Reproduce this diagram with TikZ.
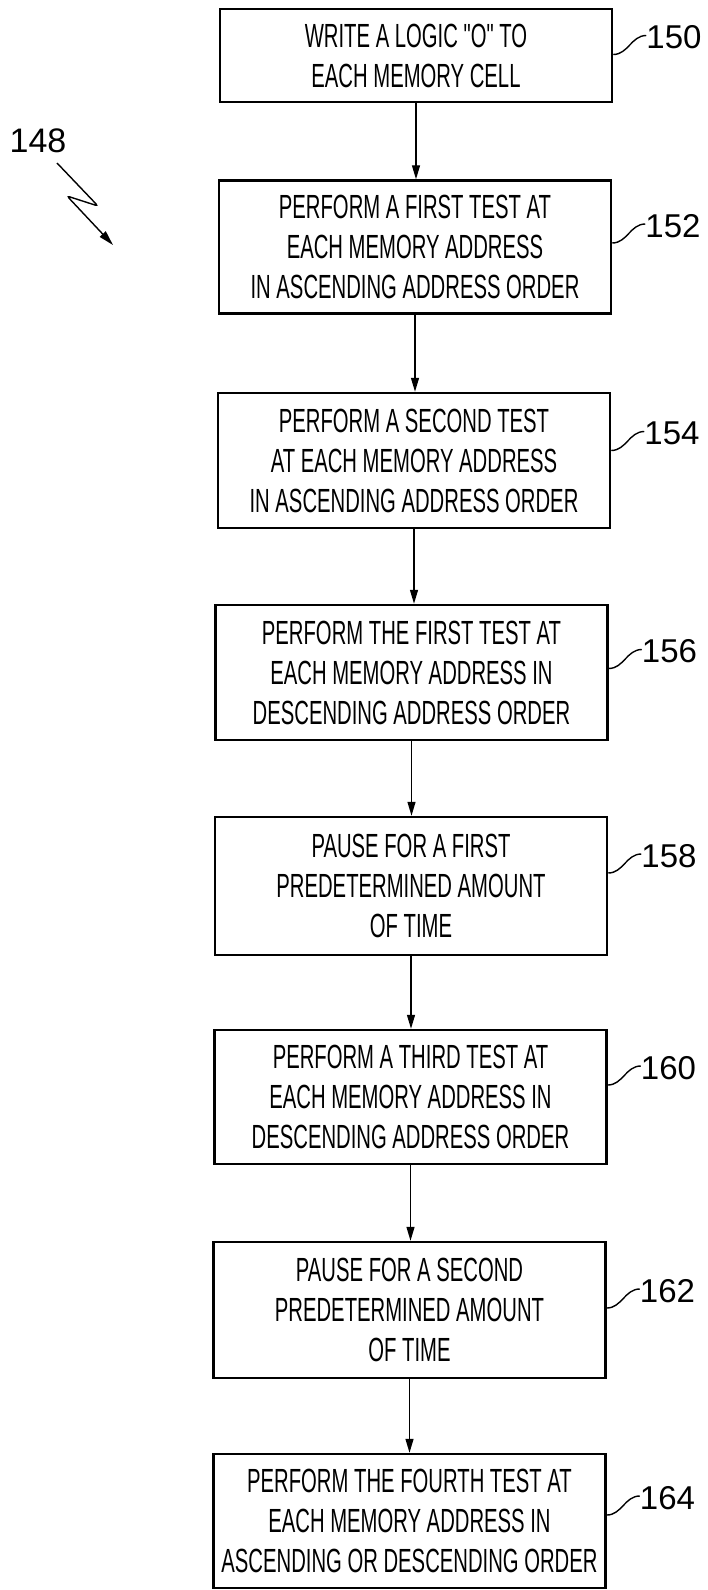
\documentclass[tikz,border=0pt]{standalone}
\usepackage{fontspec}
\setmainfont{Liberation Sans}
\newfontfamily\boxfont{Liberation Sans}[FakeStretch=0.605]
\usetikzlibrary{arrows.meta,calc}
\begin{document}
\begin{tikzpicture}[x=1pt,y=1pt,
  stepbox/.style={draw, line width=2.5pt, minimum width=392pt, minimum height=134pt,
    inner sep=0pt, align=center, font=\boxfont\fontsize{33.5}{40}\selectfont},
  flow/.style={line width=1.4pt, -{Triangle[length=14pt,width=8pt]}},
  refnum/.style={anchor=west, inner sep=0pt, font=\fontsize{33}{33}\selectfont},
  leader/.style={line width=1.4pt}]
\useasboundingbox (0,0) rectangle (708,-1590);

\node[stepbox, minimum height=93pt] (b150) at (416,-55.5) {WRITE A LOGIC "O" TO\\EACH MEMORY CELL};
\node[stepbox, minimum height=133pt] (b152) at (415,-247) {PERFORM A FIRST TEST AT\\EACH MEMORY ADDRESS\\IN ASCENDING ADDRESS ORDER};
\node[stepbox, minimum height=135pt] (b154) at (414,-460.5) {PERFORM A SECOND TEST\\AT EACH MEMORY ADDRESS\\IN ASCENDING ADDRESS ORDER};
\node[stepbox, minimum height=135pt] (b156) at (411.5,-672.5) {PERFORM THE FIRST TEST AT\\EACH MEMORY ADDRESS IN\\DESCENDING ADDRESS ORDER};
\node[stepbox, minimum height=138pt] (b158) at (411,-886) {PAUSE FOR A FIRST\\PREDETERMINED AMOUNT\\OF TIME};
\node[stepbox] (b160) at (410.5,-1097) {PERFORM A THIRD TEST AT\\EACH MEMORY ADDRESS IN\\DESCENDING ADDRESS ORDER};
\node[stepbox, minimum height=136pt] (b162) at (409.5,-1310) {PAUSE FOR A SECOND\\PREDETERMINED AMOUNT\\OF TIME};
\node[stepbox] (b164) at (409.5,-1521) {PERFORM THE FOURTH TEST AT\\EACH MEMORY ADDRESS IN\\ASCENDING OR DESCENDING ORDER};

\foreach \a/\b in {b150/b152,b152/b154,b154/b156,b156/b158,b158/b160,b160/b162,b162/b164}
  \draw[flow] (\a.south) -- (\a.south |- \b.north);

\foreach \b/\n/\o in {b150/150/1,b152/152/4,b154/154/10,b156/156/4,b158/158/13,b160/160/12,b162/162/2,b164/164/6}{
  \coordinate (s\n) at ($(\b.east)+(0,\o)$);
  \coordinate (e\n) at ($(s\n)+(33,19)$);
  \draw[leader] (s\n) to[out=0,in=180] (e\n);
  \node[refnum] (l\n) at ($(e\n)+(0,-2)$) {\n};
}

\node[inner sep=0pt, font=\fontsize{34}{34}\selectfont] (n148) at (38,-141) {148};
\coordinate (z1) at (57,-163);
\coordinate (z2) at (98,-206);
\coordinate (z3) at (67,-196);
\coordinate (z4) at (113,-245);
\draw[line width=1.4pt, rounded corners=3pt, -{Triangle[length=15pt,width=8pt]}] (z1) -- (z2) -- (z3) -- (z4);
\end{tikzpicture}
\end{document}
